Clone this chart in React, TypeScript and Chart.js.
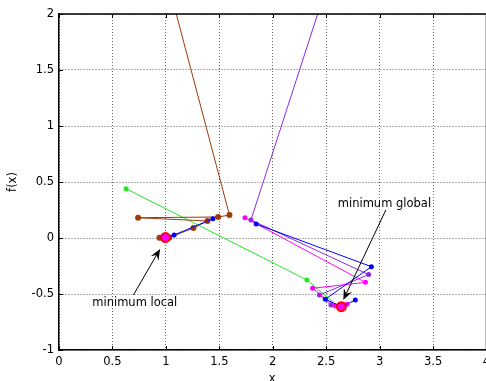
import React, { useEffect, useRef } from "react";
import { Chart, registerables } from "chart.js";

Chart.register(...registerables);

// axis settings
const X_MIN = 0;
const X_MAX = 4;
const Y_MIN = -1;
const Y_MAX = 2;
const TICK_STEP = 0.5;

// Paths (x values, y values)
const brownX = [0.82, 1.595, 1.489, 0.74, 1.389, 1.258, 1.033, 0.94];
const brownY = [3.0, 0.205, 0.1875, 0.181, 0.152, 0.089, 0.004, 0.003];

const blueLocalX = [1.44, 1.077, 0.996];
const blueLocalY = [0.172, 0.027, 0.004];

const greenX = [0.628, 2.32, 2.616];
const greenY = [0.44, -0.375, -0.613];

const purpleX = [2.76, 1.796, 2.897, 2.436, 2.545, 2.642];
const purpleY = [3.0, 0.161, -0.327, -0.509, -0.598, -0.613];

const magentaX = [1.74, 2.867, 2.373, 2.585, 2.695];
const magentaY = [0.181, -0.396, -0.449, -0.607, -0.592];

const blueGlobalX = [1.845, 2.923, 2.492, 2.642, 2.773];
const blueGlobalY = [0.125, -0.256, -0.547, -0.613, -0.554];

const minimaX = [0.996, 2.642];
const minimaY = [0.004, -0.613];

// annotations
const labelTexts = ["minimum local", "minimum global"];
const labelX = [0.709, 3.045];
const labelY = [-0.58, 0.304];
const arrowTailX = [0.696, 3.058];
const arrowTailY = [-0.509, 0.25];
const arrowHeadX = [0.946, 2.66];
const arrowHeadY = [-0.098, -0.554];

const TARGET_RIGHT = 486;
const FAMILY = '"DejaVu Sans", "Liberation Sans", Arial, sans-serif';
const FONT_SIZE = 11.5;
const FONT = FONT_SIZE + "px " + FAMILY;

const zip = (xs: number[], ys: number[]) => xs.map((x, i) => ({ x, y: ys[i] }));
const fmt = (v: any) => String(Math.round(Number(v) * 100) / 100);

const framePlugin = {
  id: "frame",
  afterDatasetsDraw(chart: any) {
    const { ctx, chartArea, scales } = chart;
    const xs = scales.x;
    const ys = scales.y;
    ctx.save();
    // arrows
    ctx.strokeStyle = "#000";
    ctx.fillStyle = "#000";
    ctx.lineWidth = 1;
    for (let i = 0; i < arrowTailX.length; i++) {
      const x1 = xs.getPixelForValue(arrowTailX[i]);
      const y1 = ys.getPixelForValue(arrowTailY[i]);
      const x2 = xs.getPixelForValue(arrowHeadX[i]);
      const y2 = ys.getPixelForValue(arrowHeadY[i]);
      const ang = Math.atan2(y2 - y1, x2 - x1);
      const len = 11;
      const half = 4.5;
      const back = 7;
      ctx.beginPath();
      ctx.moveTo(x1, y1);
      ctx.lineTo(x2 - Math.cos(ang) * back, y2 - Math.sin(ang) * back);
      ctx.stroke();
      const bx = x2 - Math.cos(ang) * len;
      const by = y2 - Math.sin(ang) * len;
      const nx = -Math.sin(ang);
      const ny = Math.cos(ang);
      ctx.beginPath();
      ctx.moveTo(x2, y2);
      ctx.lineTo(bx + nx * half, by + ny * half);
      ctx.lineTo(x2 - Math.cos(ang) * back, y2 - Math.sin(ang) * back);
      ctx.lineTo(bx - nx * half, by - ny * half);
      ctx.closePath();
      ctx.fill();
    }
    // labels
    ctx.font = FONT;
    ctx.textAlign = "center";
    ctx.textBaseline = "middle";
    for (let i = 0; i < labelTexts.length; i++) {
      ctx.fillText(labelTexts[i], xs.getPixelForValue(labelX[i]), ys.getPixelForValue(labelY[i]));
    }
    // frame: top border and inward ticks
    const { left, right, top, bottom } = chartArea;
    ctx.lineWidth = 1.5;
    ctx.beginPath();
    ctx.moveTo(left, top);
    ctx.lineTo(right, top);
    ctx.lineTo(right, bottom);
    ctx.stroke();
    ctx.lineWidth = 1;
    const tl = 4;
    for (let v = X_MIN; v <= X_MAX + 1e-9; v += TICK_STEP) {
      const px = Math.round(xs.getPixelForValue(v)) + 0.5;
      ctx.beginPath();
      ctx.moveTo(px, bottom);
      ctx.lineTo(px, bottom - tl);
      ctx.moveTo(px, top);
      ctx.lineTo(px, top + tl);
      ctx.stroke();
    }
    for (let v = Y_MIN; v <= Y_MAX + 1e-9; v += TICK_STEP) {
      const py = Math.round(ys.getPixelForValue(v)) + 0.5;
      ctx.beginPath();
      ctx.moveTo(left, py);
      ctx.lineTo(left + tl, py);
      ctx.stroke();
    }
    // axis titles
    ctx.textAlign = "center";
    ctx.textBaseline = "top";
    ctx.fillText("x", xs.getPixelForValue(2) - 0.5, 373);
    ctx.save();
    ctx.translate(13, (top + bottom) / 2);
    ctx.rotate(-Math.PI / 2);
    ctx.textBaseline = "middle";
    ctx.fillText("f(x)", 0, 0);
    ctx.restore();
    ctx.restore();
  },
};

function series(label: string, xs: number[], ys: number[], color: string, radius: number) {
  return {
    label,
    data: zip(xs, ys),
    showLine: true,
    borderColor: color,
    backgroundColor: color,
    borderWidth: 1,
    pointRadius: radius,
    pointBorderWidth: 0,
    pointBackgroundColor: color,
    tension: 0,
  };
}

function makeChart(canvas: HTMLCanvasElement) {
  return new Chart(canvas, {
    type: "scatter",
    data: {
      datasets: [
        {
          label: "minima",
          data: zip(minimaX, minimaY),
          showLine: false,
          pointRadius: 4.5,
          pointBorderWidth: 2,
          pointBorderColor: "#ff0000",
          pointBackgroundColor: "#ff00ff",
        } as any,
        series("blue global", blueGlobalX, blueGlobalY, "#0000ff", 2.5),
        series("magenta", magentaX, magentaY, "#ff00ff", 2.5),
        series("purple", purpleX, purpleY, "#8a2be2", 2.5),
        series("blue local", blueLocalX, blueLocalY, "#0000ff", 2.5),
        series("brown", brownX, brownY, "#9c3c08", 3),
        series("green", greenX, greenY, "#22e622", 2.5),
      ],
    },
    options: {
      animation: false,
      responsive: false,
      maintainAspectRatio: false,
      devicePixelRatio: 1,
      layout: { padding: { top: 14, right: 0, left: 0, bottom: 0 } },
      plugins: { legend: { display: false }, tooltip: { enabled: false } },
      scales: {
        x: {
          type: "linear",
          min: X_MIN,
          max: X_MAX,
          ticks: {
            stepSize: TICK_STEP,
            color: "#000",
            font: { family: FAMILY, size: FONT_SIZE },
            padding: 5,
            maxRotation: 0,
            autoSkip: false,
            callback: fmt,
          },
          grid: { color: "rgba(0,0,0,0.6)", drawTicks: false, lineWidth: 1 },
          border: { color: "#000", width: 1.5, dash: [1, 2] },
          afterFit: (s: any) => {
            s.height = 31;
            s.paddingLeft = 0;
            s.paddingRight = 0;
          },
        },
        y: {
          type: "linear",
          min: Y_MIN,
          max: Y_MAX,
          ticks: {
            stepSize: TICK_STEP,
            color: "#000",
            font: { family: FAMILY, size: FONT_SIZE },
            padding: 5,
            callback: fmt,
          },
          grid: { color: "rgba(0,0,0,0.6)", drawTicks: false, lineWidth: 1 },
          border: { color: "#000", width: 1.5, dash: [1, 2] },
          afterFit: (s: any) => {
            s.width = 59;
            s.paddingTop = 0;
            s.paddingBottom = 0;
          },
        },
      },
    },
    plugins: [framePlugin],
  });
}

export default function App() {
  const ref = useRef<HTMLCanvasElement>(null);
  useEffect(() => {
    document.body.style.margin = "0";
    document.body.style.overflow = "hidden";
    const canvas = ref.current!;
    let chart = makeChart(canvas);
    // widen canvas so that the plot's right edge (x = 4) falls at the window edge
    for (let k = 0; k < 3; k++) {
      const gap = TARGET_RIGHT - chart.chartArea.right;
      if (Math.abs(gap) <= 0.5) break;
      const w = Math.round(canvas.width + gap);
      chart.destroy();
      canvas.width = w;
      canvas.height = 381;
      canvas.style.width = w + "px";
      canvas.style.height = "381px";
      chart = makeChart(canvas);
    }
    return () => chart.destroy();
  }, []);
  return (
    <div style={{ position: "fixed", left: 0, top: 0, width: 486, height: 381, overflow: "hidden", background: "#fff" }}>
      <div style={{ width: 600, height: 381 }}>
        <canvas ref={ref} width={486} height={381} style={{ width: 486, height: 381, display: "block" }} />
      </div>
    </div>
  );
}
